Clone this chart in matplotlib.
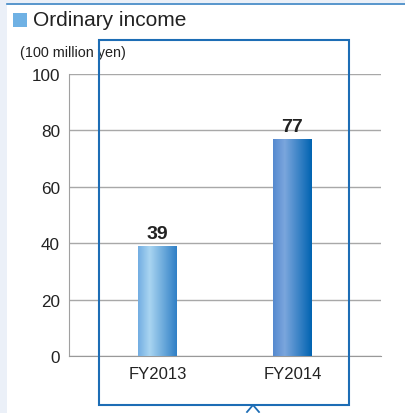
import matplotlib.pyplot as plt
import matplotlib.patches as mpatches
import matplotlib.lines as mlines
from matplotlib.colors import LinearSegmentedColormap
import numpy as np

plt.rcParams['font.family'] = ['Liberation Sans', 'DejaVu Sans']

# data
years = ['FY2013', 'FY2014']
income = [39, 77]
yticks = [0, 20, 40, 60, 80, 100]

# gradient colours for each bar (left -> light -> right)
grads = [['#72ade2', '#a9d5f1', '#2f7fc6'],
         ['#5589cf', '#7ba6dd', '#0063b1']]

fig = plt.figure(figsize=(4.06, 4.14), dpi=100)
fig.patch.set_facecolor('#ebf0f8')

# white panel + top rule
fig.add_artist(mpatches.Rectangle((7/406, 0), 1, 1 - 6/414, transform=fig.transFigure,
                                  facecolor='white', edgecolor='none', zorder=0))
fig.add_artist(mlines.Line2D([7/406, 1], [1 - 5/414, 1 - 5/414], transform=fig.transFigure,
                             color='#3f87c5', lw=1.2))

# title with square marker
fig.add_artist(mpatches.Rectangle((13/406, 1 - 28/414), 14/406, 14/414, transform=fig.transFigure,
                                  facecolor='#6fb1e4', edgecolor='none'))
fig.text(33/406, 1 - 21/414, 'Ordinary income', fontsize=15, va='center', ha='left', color='#222222')
fig.text(20/406, 1 - 53/414, '(100 million yen)', fontsize=10.4, va='center', ha='left', color='#222222')

ax = fig.add_axes([69/406, 1 - 357/414, 312/406, 282/414])
ax.set_facecolor('none')
x = np.arange(len(years))
bars = ax.bar(x, income, width=0.289, color='none', edgecolor='none', zorder=3)

for b, g in zip(bars, grads):
    cmap = LinearSegmentedColormap.from_list('g', [(0, g[0]), (0.3, g[1]), (1, g[2])])
    bx, by = b.get_x(), b.get_y()
    im = ax.imshow(np.linspace(0, 1, 256).reshape(1, -1), cmap=cmap, aspect='auto',
                   extent=[bx, bx + b.get_width(), by, by + b.get_height()], zorder=3)
    im.set_clip_path(b)

for xi, v in zip(x, income):
    ax.text(xi, v + 1.3, str(v), ha='center', va='bottom', fontsize=14, fontweight='bold', color='#222222')

ax.set_xlim(-0.656, 1.656)
ax.set_ylim(0, 100)
ax.set_yticks(yticks)
ax.yaxis.grid(True, color='#a8a8a8', lw=1)
ax.set_axisbelow(True)
ax.set_xticks(x)
ax.set_xticklabels(years, fontsize=12, color='#222222')
ax.tick_params(axis='y', length=0, labelsize=12.3, pad=6.5, labelcolor='#222222')
ax.tick_params(axis='x', length=0, pad=7)
for s in ['top', 'right']:
    ax.spines[s].set_visible(False)
ax.spines['left'].set_color('#a0a0a0')
ax.spines['bottom'].set_color('#999999')

# blue highlight box with caret
fig.add_artist(mpatches.Rectangle((99/406, 1 - 406/414), 250/406, 365/414, transform=fig.transFigure,
                                  facecolor='none', edgecolor='#1d6db5', lw=1.5, zorder=5))
fig.add_artist(mlines.Line2D([247/406, 253/406, 259/406], [1 - 413/414, 1 - 406/414, 1 - 413/414],
                             transform=fig.transFigure, color='#1d6db5', lw=1.3, zorder=6))

fig.savefig('out.png', dpi=100)
